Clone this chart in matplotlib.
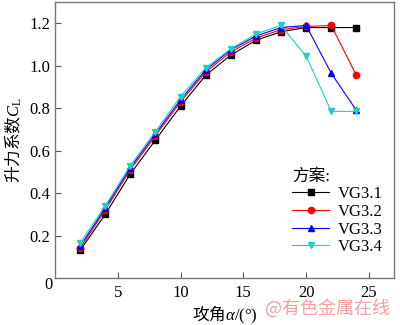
import matplotlib
matplotlib.use("Agg")
import matplotlib.pyplot as plt

plt.rcParams['font.family'] = ['Liberation Serif', 'Noto Sans CJK SC']
plt.rcParams['mathtext.fontset'] = 'custom'
plt.rcParams['mathtext.rm'] = 'Liberation Serif'
plt.rcParams['mathtext.it'] = 'Liberation Serif:italic'
plt.rcParams['mathtext.sf'] = 'Noto Sans CJK SC'

alpha = [2, 4, 6, 8, 10, 12, 14, 16, 18, 20, 22, 24]
vg31 = [0.13, 0.30, 0.49, 0.65, 0.81, 0.955, 1.05, 1.12, 1.16, 1.18, 1.18, 1.18]
vg32 = [0.14, 0.32, 0.51, 0.67, 0.83, 0.97, 1.065, 1.13, 1.17, 1.185, 1.19, 0.955]
vg33 = [0.15, 0.33, 0.52, 0.68, 0.84, 0.98, 1.075, 1.14, 1.18, 1.19, 0.965, 0.79]
vg34 = [0.165, 0.34, 0.53, 0.69, 0.855, 0.99, 1.08, 1.15, 1.19, 1.045, 0.785, 0.785]
labels = ['VG3.1', 'VG3.2', 'VG3.3', 'VG3.4']
colors = ['black', 'red', 'blue', '#22CCCC']
markers = ['s', 'o', '^', 'v']

fig = plt.figure(figsize=(4, 3.25), dpi=100)
ax = fig.add_axes([0.1375, 0.1446, 0.8475, 0.849])

for ys, lab, c, m in zip([vg31, vg32, vg33, vg34], labels, colors, markers):
    ax.plot(alpha, ys, color=c, marker=m, markersize=4.5, linewidth=0.8, label=lab)

ax.set_xlim(0, 27)
ax.set_ylim(0, 1.3)
ax.set_xticks([5, 10, 15, 20, 25])
ax.set_yticks([0.2, 0.4, 0.6, 0.8, 1.0, 1.2])
ax.set_yticklabels(['0.2', '0.4', '0.6', '0.8', '1.0', '1.2'])
ax.tick_params(direction='in', length=4, labelsize=12, color='#555555')
ax.tick_params(axis='x', pad=5)
for s in ax.spines.values():
    s.set_color('#777777')
    s.set_linewidth(1.0)

ax.text(-0.02, -0.027, '0', transform=ax.transAxes, ha='center', va='center', fontsize=12)

ax.set_xlabel(r'$\mathsf{攻角}\alpha\mathrm{/(°)}$', fontsize=12, labelpad=2)
ax.set_ylabel(r'$\mathsf{升力系数}C_\mathrm{L}$', fontsize=12, labelpad=4)

leg = ax.legend(title='方案:', loc='lower right', bbox_to_anchor=(1.0, 0.04), frameon=False,
                fontsize=12, title_fontsize=12, handlelength=2.2, handletextpad=0.5,
                labelspacing=0.1, borderaxespad=0.3)
leg._legend_box.align = 'left'

fig.text(0.975, 0.05, '@有色金属在线', color='#F4A0A0', fontsize=13, ha='right', va='center',
         family=['Noto Sans CJK SC'])

fig.savefig('out.png', dpi=100)
